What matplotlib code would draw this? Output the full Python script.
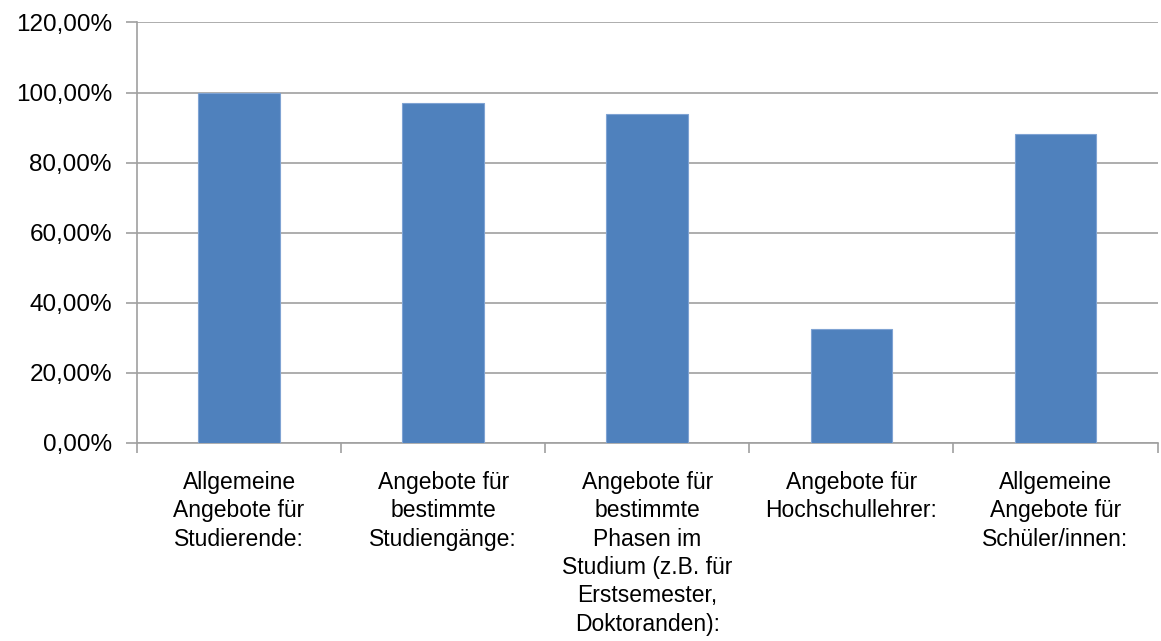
import matplotlib.pyplot as plt
from matplotlib.ticker import FuncFormatter, FixedLocator

# Daten
kategorien = [
    "Allgemeine\nAngebote für\nStudierende:",
    "Angebote für\nbestimmte\nStudiengänge:",
    "Angebote für\nbestimmte\nPhasen im\nStudium (z.B. für\nErstsemester,\nDoktoranden):",
    "Angebote für\nHochschullehrer:",
    "Allgemeine\nAngebote für\nSchüler/innen:",
]
anteile = [100.0, 97.1, 94.0, 32.4, 88.3]
y_ticks = [0, 20, 40, 60, 80, 100, 120]

plt.rcParams['font.family'] = ['Liberation Sans', 'DejaVu Sans']

fig = plt.figure(figsize=(11.61, 6.41), dpi=100)
ax = fig.add_axes([0.118, 0.309, 0.879, 0.656])

x = list(range(len(kategorien)))
ax.bar(x, anteile, width=0.4, color='#4F81BD', edgecolor='#7FA3D3', linewidth=0.8, zorder=3)

ax.set_xlim(-0.5, len(kategorien) - 0.5)
ax.set_ylim(0, 120)
ax.set_yticks(y_ticks)
ax.yaxis.set_major_formatter(FuncFormatter(lambda v, p: f"{v:.2f}%".replace('.', ',')))
ax.grid(axis='y', color='#A0A0A0', linewidth=1.2, zorder=0)

# Kategorien als Beschriftung, Striche an den Grenzen
ax.set_xticks(x)
ax.set_xticklabels(kategorien, fontsize=16.5, linespacing=1.3, va='top')
ax.tick_params(axis='x', which='major', length=0, pad=20)
ax.xaxis.set_minor_locator(FixedLocator([i - 0.5 for i in range(len(kategorien) + 1)]))
ax.tick_params(axis='x', which='minor', length=7, color='#A0A0A0', width=1.2)
ax.tick_params(axis='y', labelsize=17.5, length=8, color='#A0A0A0', width=1.2, pad=10)

for s in ['top', 'right']:
    ax.spines[s].set_visible(False)
for s in ['left', 'bottom']:
    ax.spines[s].set_color('#A0A0A0')
    ax.spines[s].set_linewidth(1.2)

fig.savefig('out.png', dpi=100)
